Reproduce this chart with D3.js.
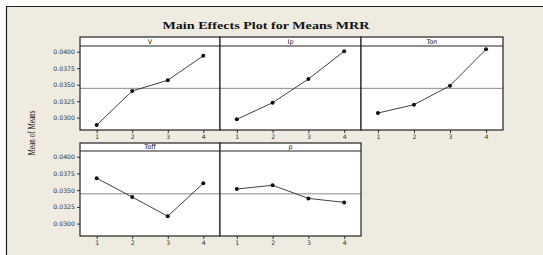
<!DOCTYPE html>
<html>
<head>
<meta charset="utf-8">
<script src="https://cdn.jsdelivr.net/npm/d3@7"></script>
<style>
  body { margin: 0; background: #fff; }
  svg { display: block; }
  .tick text { font-family: "DejaVu Sans", sans-serif; font-size: 6.2px; fill: #333; }
  .tick line { stroke: #333; }
  .strip text { font-family: "DejaVu Sans", sans-serif; font-size: 6.5px; fill: #222; }
</style>
</head>
<body>
<svg id="chart" width="543" height="255"></svg>
<script>
// factor names in panel order
var factors = ["V", "Ip", "Ton", "Toff", "p"];
var levels = [1, 2, 3, 4];

// means
var meanV    = [0.02889, 0.03405, 0.03567, 0.03939];
var meanIp   = [0.02976, 0.03227, 0.03586, 0.04006];
var meanTon  = [0.03071, 0.03197, 0.03485, 0.04036];
var meanToff = [0.03679, 0.03397, 0.03110, 0.03603];
var meanP    = [0.03517, 0.03573, 0.03377, 0.03317];
var grandMean = 0.03445;

var yTicks = [0.0300, 0.0325, 0.0350, 0.0375, 0.0400];

var series = [meanV, meanIp, meanTon, meanToff, meanP];

var svg = d3.select("#chart");

// beige frame, only top and left edge drawn
svg.append("rect").attr("x", 6).attr("y", 6).attr("width", 537).attr("height", 249)
  .attr("fill", "#efebe1");
svg.append("path").attr("d", "M6.5,255V6.5H543")
  .attr("fill", "none").attr("stroke", "#222").attr("stroke-width", 1.2);

svg.append("text")
  .attr("x", 266).attr("y", 29)
  .attr("text-anchor", "middle")
  .attr("font-family", "'Liberation Serif', serif")
  .attr("font-weight", "bold")
  .attr("font-size", 11)
  .attr("textLength", 207)
  .attr("lengthAdjust", "spacingAndGlyphs")
  .attr("fill", "#111")
  .text("Main Effects Plot  for Means MRR");

svg.append("text")
  .attr("transform", "translate(35,133) rotate(-90)")
  .attr("text-anchor", "middle")
  .attr("font-family", "'Liberation Serif', serif")
  .attr("font-size", 10.5)
  .attr("textLength", 45)
  .attr("lengthAdjust", "spacingAndGlyphs")
  .attr("fill", "#111")
  .text("Mean of Means");

var colX = [80, 220, 361, 503];
var rows = [{top: 37, strip: 46, bottom: 130}, {top: 143, strip: 151, bottom: 236}];

var x = d3.scaleLinear().domain([0.53, 4.47]);

factors.forEach(function (name, i) {
  var col = i % 3, row = Math.floor(i / 3);
  var x0 = colX[col], x1 = colX[col + 1];
  var r = rows[row];
  var xs = x.copy().range([x0, x1]);
  var y = d3.scaleLinear().domain([0.02814, 0.04086]).range([r.bottom, r.strip]);

  var g = svg.append("g");

  g.append("rect").attr("x", x0).attr("y", r.strip).attr("width", x1 - x0)
    .attr("height", r.bottom - r.strip).attr("fill", "#fff");

  var strip = g.append("g").attr("class", "strip");
  strip.append("rect").attr("x", x0).attr("y", r.top).attr("width", x1 - x0)
    .attr("height", r.strip - r.top).attr("fill", "#fff");
  strip.append("text").attr("x", (x0 + x1) / 2).attr("y", r.strip - 2)
    .attr("text-anchor", "middle").text(name);

  // grand mean reference
  g.append("line").attr("x1", x0).attr("x2", x1)
    .attr("y1", y(grandMean)).attr("y2", y(grandMean))
    .attr("stroke", "#888").attr("stroke-width", 1);

  g.append("path").datum(series[i])
    .attr("fill", "none").attr("stroke", "#111").attr("stroke-width", 0.8)
    .attr("d", d3.line().x(function (d, j) { return xs(levels[j]); }).y(function (d) { return y(d); }));

  g.selectAll("circle").data(series[i]).enter().append("circle")
    .attr("cx", function (d, j) { return xs(levels[j]); })
    .attr("cy", function (d) { return y(d); })
    .attr("r", 2).attr("fill", "#111");

  g.append("g").attr("transform", "translate(0," + r.bottom + ")")
    .call(d3.axisBottom(xs).tickValues(levels).tickSize(3).tickPadding(1.5).tickFormat(d3.format("d")))
    .call(function (a) { a.select(".domain").remove(); });

  if (col === 0) {
    g.append("g").attr("transform", "translate(" + x0 + ",0)")
      .call(d3.axisLeft(y).tickValues(yTicks).tickSize(3).tickPadding(2).tickFormat(d3.format(".4f")))
      .call(function (a) { a.select(".domain").remove(); });
  }

  // panel and strip borders
  g.append("rect").attr("x", x0).attr("y", r.top).attr("width", x1 - x0)
    .attr("height", r.bottom - r.top).attr("fill", "none")
    .attr("stroke", "#222").attr("stroke-width", 1.2);
  g.append("line").attr("x1", x0).attr("x2", x1).attr("y1", r.strip).attr("y2", r.strip)
    .attr("stroke", "#222").attr("stroke-width", 1);
});
</script>
</body>
</html>
